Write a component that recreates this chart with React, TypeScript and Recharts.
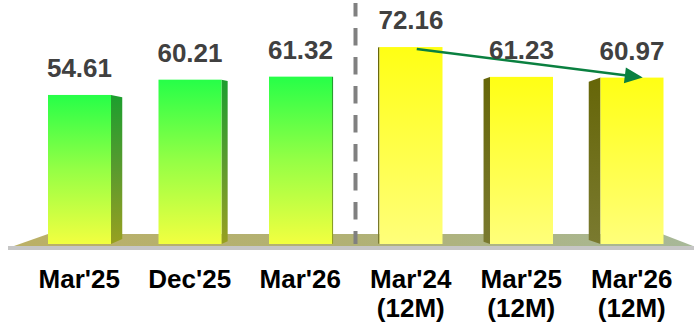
import React from "react";
import { BarChart, Bar, XAxis, YAxis, LabelList, ReferenceLine } from "recharts";

const categories = ["Mar'25", "Dec'25", "Mar'26", "Mar'24 (12M)", "Mar'25 (12M)", "Mar'26 (12M)"];
const values = [54.61, 60.21, 61.32, 72.16, 61.23, 60.97];
const groups = ["quarter", "quarter", "quarter", "annual", "annual", "annual"];
const arrowFrom = { category: "Mar'24 (12M)", value: 72.16 };
const arrowTo = { category: "Mar'26 (12M)", value: 60.97 };
const dividerAt = "Mar'24 (12M)";

const W = 694;
const H = 327;
const MARGIN = { top: 0, right: 7, bottom: 0, left: 24 };
const AXIS_H = 83;
const PLOT_W = W - MARGIN.left - MARGIN.right;
const VANISH_X = MARGIN.left + PLOT_W / 2;

const data = categories.map((c, i) => ({ name: c, value: values[i], group: groups[i] }));

const BarShape = (props: any) => {
  const { x, y, width, height, payload } = props;
  const base = y + height;
  const green = payload.group === "quarter";
  let side: React.ReactNode = null;
  if (green) {
    const ex = x + width;
    const sw = Math.abs(ex - VANISH_X) * 0.046;
    side = (
      <polygon
        points={`${ex},${y} ${ex + sw},${y + sw * 0.2} ${ex + sw},${base - sw * 0.45} ${ex},${base}`}
        fill="url(#gSide)"
      />
    );
  } else {
    const ex = x;
    const sw = Math.max(1.5, Math.abs(ex - VANISH_X) * 0.048);
    side = (
      <polygon
        points={`${ex},${y} ${ex - sw},${y + sw * 0.35} ${ex - sw},${base - sw * 0.35} ${ex},${base}`}
        fill="url(#ySide)"
      />
    );
  }
  return (
    <g>
      {side}
      <rect x={x} y={y} width={width} height={height} fill={green ? "url(#gFront)" : "url(#yFront)"} />
    </g>
  );
};

const ValueLabel = (props: any) => {
  const { x, y, width, value } = props;
  return (
    <text
      x={x + width / 2}
      y={y - 18}
      textAnchor="middle"
      fontFamily="'Liberation Sans', Arial, sans-serif"
      fontWeight="bold"
      fontSize={26}
      fill="#404040"
    >
      {Number(value).toFixed(2)}
    </text>
  );
};

const CatTick = (props: any) => {
  const { x, y, payload } = props;
  const s: string = payload.value;
  const idx = s.indexOf(" (");
  const lines = idx >= 0 ? [s.slice(0, idx), s.slice(idx + 1)] : [s];
  return (
    <text
      x={x}
      y={y + 44}
      textAnchor="middle"
      fontFamily="'Liberation Sans', Arial, sans-serif"
      fontWeight="bold"
      fontSize={26}
      fill="#000"
    >
      {lines.map((l, i) => (
        <tspan key={i} x={x} dy={i === 0 ? 0 : 29}>
          {l}
        </tspan>
      ))}
    </text>
  );
};

const ArrowShape = (props: any) => {
  const { x1, y1, x2, y2 } = props;
  const sx = x1 + 6;
  const sy = y1 + 2;
  const tx = x2 + 11;
  const ty = y2;
  const ang = Math.atan2(ty - sy, tx - sx);
  const len = 18;
  const half = 8;
  const bx = tx - len * Math.cos(ang);
  const by = ty - len * Math.sin(ang);
  const px = -Math.sin(ang) * half;
  const py = Math.cos(ang) * half;
  return (
    <g>
      <line x1={sx} y1={sy} x2={bx + 2 * Math.cos(ang)} y2={by + 2 * Math.sin(ang)} stroke="#0a8040" strokeWidth={2.5} />
      <polygon points={`${tx},${ty} ${bx + px},${by + py} ${bx - px},${by - py}`} fill="#0a8040" />
    </g>
  );
};

const DividerShape = (props: any) => {
  const { x1, y1, x2, y2 } = props;
  return (
    <line x1={x1} y1={y1} x2={x2} y2={y2 + 3} stroke="#808080" strokeWidth={4} strokeDasharray="17.5 11.5" strokeDashoffset={4.5} />
  );
};

export default function App() {
  return (
    <div style={{ position: "absolute", left: 0, top: 0, width: W, height: H, background: "#fff" }}>
      <svg width={W} height={H} style={{ position: "absolute", left: 0, top: 0 }}>
        <defs>
          <linearGradient id="floorG" x1="0" y1="0" x2="1" y2="0">
            <stop offset="0" stopColor="#bbb066" />
            <stop offset="0.5" stopColor="#b1b175" />
            <stop offset="1" stopColor="#a7b898" />
          </linearGradient>
        </defs>
        <rect x={8} y={246} width={686} height={4} fill="#c6c6c6" />
        <polygon points="14,246 48,234 662,234 693,246" fill="url(#floorG)" />
      </svg>
      <div style={{ position: "absolute", left: 0, top: 0 }}>
        <BarChart width={W} height={H} data={data} margin={MARGIN} barCategoryGap={0}>
          <defs>
            <linearGradient id="gFront" x1="0" y1="0" x2="0" y2="1">
              <stop offset="0" stopColor="#26ff48" />
              <stop offset="0.5" stopColor="#95ff45" />
              <stop offset="1" stopColor="#f2ff40" />
            </linearGradient>
            <linearGradient id="gSide" x1="0" y1="0" x2="0" y2="1">
              <stop offset="0" stopColor="#1c9e2e" />
              <stop offset="0.5" stopColor="#5a9a2e" />
              <stop offset="1" stopColor="#98a020" />
            </linearGradient>
            <linearGradient id="yFront" x1="0" y1="0" x2="0" y2="1">
              <stop offset="0" stopColor="#ffff14" />
              <stop offset="1" stopColor="#ffff7a" />
            </linearGradient>
            <linearGradient id="ySide" x1="0" y1="0" x2="0" y2="1">
              <stop offset="0" stopColor="#666608" />
              <stop offset="1" stopColor="#7a7a30" />
            </linearGradient>
          </defs>
          <XAxis
            dataKey="name"
            axisLine={false}
            tickLine={false}
            tickSize={0}
            tickMargin={0}
            height={AXIS_H}
            interval={0}
            tick={<CatTick />}
          />
          <YAxis hide domain={[0, 89.4]} />
          <ReferenceLine x={dividerAt} position="start" shape={<DividerShape />} ifOverflow="visible" />
          <Bar dataKey="value" barSize={63} shape={<BarShape />} isAnimationActive={false}>
            <LabelList dataKey="value" content={<ValueLabel />} />
          </Bar>
          <ReferenceLine
            segment={[
              { x: arrowFrom.category, y: arrowFrom.value },
              { x: arrowTo.category, y: arrowTo.value },
            ]}
            shape={<ArrowShape />}
            ifOverflow="visible"
          />
        </BarChart>
      </div>
    </div>
  );
}
